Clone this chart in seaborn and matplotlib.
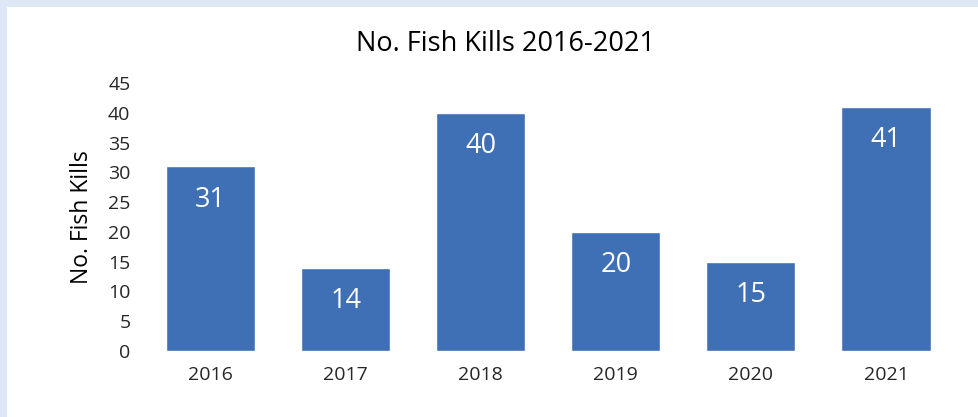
import matplotlib
matplotlib.use("Agg")
import matplotlib.pyplot as plt
import seaborn as sns
import pandas as pd
from matplotlib.patches import Rectangle

years = ["2016", "2017", "2018", "2019", "2020", "2021"]
kills = [31, 14, 40, 20, 15, 41]
yticks = [0, 5, 10, 15, 20, 25, 30, 35, 40, 45]

sns.set_theme(style="white")
plt.rcParams['font.family'] = ['Open Sans', 'DejaVu Sans']

df = pd.DataFrame({"year": years, "kills": kills})

fig = plt.figure(figsize=(9.79, 4.17), dpi=100)
fig.patch.set_facecolor("#DEE8F5")
fig.add_artist(Rectangle((7/979, 0), 1 - 7/979, 1 - 7/417, transform=fig.transFigure,
                         facecolor="white", edgecolor="none", zorder=0))

ax = fig.add_axes([143/979, 1 - 351/417, (953.5 - 143)/979, (351 - 83)/417])
ax.set_facecolor("none")
sns.barplot(data=df, x="year", y="kills", color="#3F70B5", saturation=1, width=0.66, ax=ax)

ax.set_ylim(0, 45)
ax.set_yticks(yticks)
ax.set_xlim(-0.5, 5.5)
for s in ax.spines.values():
    s.set_visible(False)
ax.tick_params(axis="both", length=0, labelsize=14, labelcolor="#262626")
ax.tick_params(axis="x", pad=11)
ax.tick_params(axis="y", pad=9)
ax.set_xlabel("")
ax.set_ylabel("No. Fish Kills", fontsize=16.5, color="black", labelpad=10)

for i, v in enumerate(kills):
    ax.annotate(str(v), (i, v), xytext=(0, -24), textcoords="offset points",
                ha="center", va="center", color="white", fontsize=19.5)

fig.text(506/979, 1 - 44/417, "No. Fish Kills 2016-2021", ha="center", va="center",
         fontsize=19.5, color="black")

fig.savefig("out.png", dpi=100, facecolor=fig.get_facecolor())
